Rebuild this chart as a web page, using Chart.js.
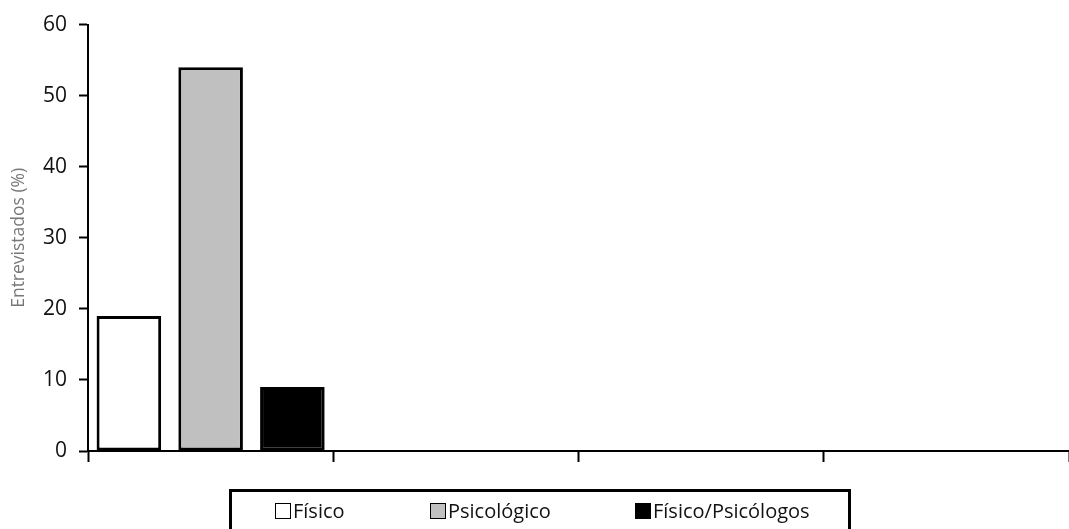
<!DOCTYPE html>
<html lang="pt">
  <head>
    <meta charset="UTF-8" />
    <title>Entrevistados (%)</title>
    <script src="https://cdn.jsdelivr.net/npm/chart.js@4"></script>
    <style>
      html, body { margin: 0; padding: 0; background: #fff; }
      .wrap { position: relative; width: 1069px; height: 529px; overflow: hidden; }
      #legend {
        position: absolute; left: 229px; top: 489px; width: 622px; height: 50px;
        border: 3px solid #000; box-sizing: border-box;
        font-family: "Open Sans", "DejaVu Sans", sans-serif; font-size: 20px; color: #111;
      }
      #legend span.item { position: absolute; top: 5px; display: flex; align-items: center; line-height: 27px; }
      #legend i { display: inline-block; width: 14px; height: 14px; border: 1px solid #000; margin-right: 2px; }
    </style>
  </head>
  <body>
    <div class="wrap">
      <canvas id="chart" width="1069" height="529"></canvas>
      <div id="legend"></div>
    </div>
    <script>
      // dados
      const categorias = ["", "", "", ""];
      const fisico = [19, null, null, null];
      const psicologico = [54, null, null, null];
      const fisicoPsicologos = [9, null, null, null];
      const yTicks = [0, 10, 20, 30, 40, 50, 60];

      const series = [
        { label: "Físico", data: fisico, cor: "#ffffff", x: 43 },
        { label: "Psicológico", data: psicologico, cor: "#c0c0c0", x: 198 },
        { label: "Físico/Psicólogos", data: fisicoPsicologos, cor: "#000000", x: 403 },
      ];

      const ctx = document.getElementById("chart").getContext("2d");
      const chart = new Chart(ctx, {
        type: "bar",
        data: {
          labels: categorias,
          datasets: series.map((s) => ({
            label: s.label,
            data: s.data,
            backgroundColor: s.cor,
            borderColor: "#000",
            borderWidth: 3,
            borderSkipped: false,
            barPercentage: 0.79,
            categoryPercentage: 1.0,
          })),
        },
        options: {
          responsive: false,
          animation: false,
          layout: { padding: { top: 15, right: 0, left: 0, bottom: 0 } },
          plugins: { legend: { display: false }, tooltip: { enabled: false } },
          scales: {
            x: {
              grid: { drawOnChartArea: false, offset: true, tickLength: 11, tickColor: "#000", tickWidth: 2 },
              border: { color: "#000", width: 2 },
              ticks: { display: true, font: { size: 1 } },
              afterFit: (scale) => { scale.height = 78; },
            },
            y: {
              min: 0,
              max: 60,
              afterBuildTicks: (scale) => { scale.ticks = yTicks.map((v) => ({ value: v })); },
              grid: { drawOnChartArea: false, tickLength: 9, tickColor: "#000", tickWidth: 2 },
              border: { color: "#000", width: 2 },
              ticks: {
                color: "#111",
                padding: 12,
                font: { family: "'Open Sans', 'DejaVu Sans', sans-serif", size: 21 },
              },
              title: {
                display: true,
                text: "Entrevistados (%)",
                color: "#777",
                padding: { top: 9, bottom: 4 },
                font: { family: "'Open Sans', 'DejaVu Sans', sans-serif", size: 17.5 },
              },
              afterFit: (scale) => { scale.width = 88; },
            },
          },
        },
      });

      // legenda em caixa
      const legend = document.getElementById("legend");
      chart.data.datasets.forEach((ds, i) => {
        const el = document.createElement("span");
        el.className = "item";
        el.style.left = series[i].x + "px";
        el.innerHTML = '<i style="background:' + ds.backgroundColor + '"></i>' + ds.label;
        legend.appendChild(el);
      });
    </script>
  </body>
</html>
